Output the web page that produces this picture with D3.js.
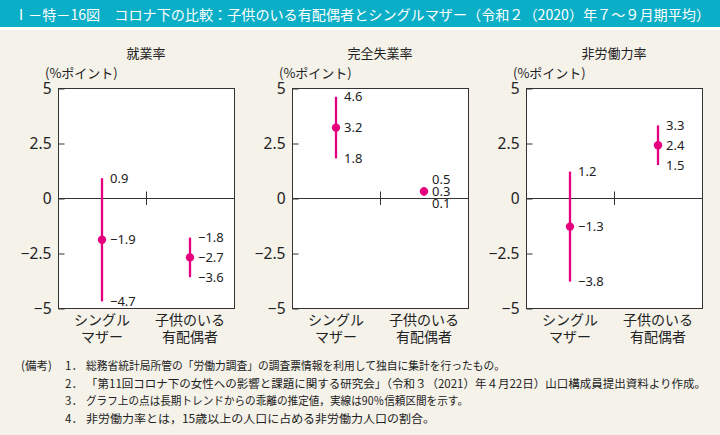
<!DOCTYPE html>
<html><head><meta charset="utf-8">
<script src="https://cdn.jsdelivr.net/npm/d3@7"></script>
<style>
html,body{margin:0;padding:0;background:#f5f2ea;}
svg{display:block;font-family:"Noto Sans CJK JP","Noto Sans",sans-serif;}
</style></head>
<body>
<svg id="c" width="720" height="435"></svg>
<script>
// ---- data ----
const titleText = "Ⅰ－特－16図　コロナ下の比較：子供のいる有配偶者とシングルマザー（令和２（2020）年７～９月期平均）";
const panelTitles = ["就業率", "完全失業率", "非労働力率"];
const unitLabel = "(%ポイント)";
const categories = ["シングルマザー", "子供のいる有配偶者"];
const categoryLines = [["シングル", "マザー"], ["子供のいる", "有配偶者"]];
const estimates = [[-1.9, -2.7], [3.2, 0.3], [-1.3, 2.4]];
const upperCI   = [[0.9, -1.8], [4.6, 0.5], [1.2, 3.3]];
const lowerCI   = [[-4.7, -3.6], [1.8, 0.1], [-3.8, 1.5]];
const yTicks = [5, 2.5, 0, -2.5, -5];
const notesHead = "(備考)";
const noteNums = ["1．", "2．", "3．", "4．"];
const notes = [
  "総務省統計局所管の「労働力調査」の調査票情報を利用して独自に集計を行ったもの。",
  "「第11回コロナ下の女性への影響と課題に関する研究会」（令和３（2021）年４月22日）山口構成員提出資料より作成。",
  "グラフ上の点は長期トレンドからの乖離の推定値，実線は90％信頼区間を示す。",
  "非労働力率とは，15歳以上の人口に占める非労働力人口の割合。"
];

// ---- layout ----
const svg = d3.select("#c");
const W = 720, H = 435;
const accent = "#e5007e";
const panelLefts = [58, 292, 526];
const pw = 176;
const yTop = 88, yBot = 308;

svg.append("rect").attr("width", W).attr("height", H).attr("fill", "#f5f2ea");
// title bar
svg.append("rect").attr("x", 0).attr("y", 0).attr("width", W).attr("height", 27).attr("fill", "#0aaec6");
svg.append("rect").attr("x", 0).attr("y", 27).attr("width", W).attr("height", 2.5).attr("fill", "#ffffff");
svg.append("text").attr("x", 14).attr("y", 14).attr("dominant-baseline", "central")
  .attr("fill", "#fff").attr("font-size", 14)
  .attr("textLength", 696).attr("lengthAdjust", "spacingAndGlyphs").text(titleText);

const y = d3.scaleLinear().domain([-5, 5]).range([yBot, yTop]);
const fmt = v => (v < 0 ? "−" : "") + (Number.isInteger(v) ? Math.abs(v) : Math.abs(v).toFixed(1));
const fmtTick = v => (v < 0 ? "−" : "") + Math.abs(v);

panelTitles.forEach((pt, i) => {
  const g = svg.append("g").attr("transform", `translate(${panelLefts[i]},0)`);
  const x = d3.scaleBand().domain(categories).range([0, pw]);
  g.append("text").attr("x", pw / 2).attr("y", 52).attr("text-anchor", "middle")
    .attr("dominant-baseline", "central").attr("font-size", 13).attr("fill", "#222").text(pt);
  g.append("text").attr("x", -13).attr("y", 72).attr("dominant-baseline", "central")
    .attr("font-size", 13).attr("fill", "#222").text(unitLabel);
  g.append("rect").attr("x", 0.5).attr("y", yTop + 0.5).attr("width", pw).attr("height", yBot - yTop)
    .attr("fill", "#fff").attr("stroke", "#333").attr("stroke-width", 1);

  const ax = g.append("g").attr("transform", "translate(0.5,0.5)")
    .call(d3.axisLeft(y).tickValues(yTicks).tickSizeInner(-6).tickSizeOuter(0).tickPadding(7).tickFormat(fmtTick));
  ax.select(".domain").remove();
  ax.selectAll(".tick line").attr("stroke", "#333");
  ax.selectAll(".tick text").attr("font-size", 15.5).attr("fill", "#222")
    .attr("font-family", "'Noto Sans','Noto Sans CJK JP',sans-serif").attr("dy", "0.35em");

  // zero line and middle divider tick
  g.append("line").attr("x1", 0).attr("x2", pw).attr("y1", y(0) + 0.5).attr("y2", y(0) + 0.5)
    .attr("stroke", "#333").attr("stroke-width", 1);
  g.append("line").attr("x1", pw / 2 + 0.5).attr("x2", pw / 2 + 0.5).attr("y1", y(0) - 6.5).attr("y2", y(0) + 7)
    .attr("stroke", "#333").attr("stroke-width", 1);

  categories.forEach((c, j) => {
    const cx = x(c) + x.bandwidth() / 2;
    const est = estimates[i][j], hi = upperCI[i][j], lo = lowerCI[i][j];
    g.append("line").attr("x1", cx).attr("x2", cx).attr("y1", y(hi)).attr("y2", y(lo))
      .attr("stroke", accent).attr("stroke-width", 2.3);
    g.append("circle").attr("cx", cx).attr("cy", y(est)).attr("r", 4.2).attr("fill", accent);
    // labels with minimal spacing; one text block per estimate
    const gap = 12;
    const ye = y(est);
    const yh = Math.min(y(hi), ye - gap);
    const yl = Math.max(y(lo), ye + gap);
    const lt = g.append("text").attr("font-size", 13).attr("fill", "#222")
      .attr("font-family", "'Noto Sans','Noto Sans CJK JP',sans-serif");
    [[hi, yh], [est, ye], [lo, yl]].forEach(([v, yy]) => {
      lt.append("tspan").attr("x", cx + 8).attr("y", yy + 4.6).text(fmt(v));
    });
    // category label (two lines)
    const ct = g.append("text").attr("text-anchor", "middle").attr("font-size", 14).attr("fill", "#222");
    categoryLines[j].forEach((ln, k) => {
      ct.append("tspan").attr("x", cx).attr("y", 320 + k * 17 + 5).text(ln);
    });
  });
});

// notes
const notesY = [365, 382.7, 400.4, 418];
const noteEnds = [505, 706, 468, 435];
svg.append("text").attr("x", 21).attr("y", notesY[0]).attr("dominant-baseline", "central")
  .attr("font-size", 11.5).attr("fill", "#222").text(notesHead);
notes.forEach((n, i) => {
  svg.append("text").attr("x", 65).attr("y", notesY[i]).attr("dominant-baseline", "central")
    .attr("font-size", 11.5).attr("fill", "#222").text(noteNums[i]);
  svg.append("text").attr("x", 86).attr("y", notesY[i]).attr("dominant-baseline", "central")
    .attr("font-size", 11.5).attr("fill", "#222")
    .attr("textLength", noteEnds[i] - 86).attr("lengthAdjust", "spacingAndGlyphs").text(n);
});
</script>
</body></html>
